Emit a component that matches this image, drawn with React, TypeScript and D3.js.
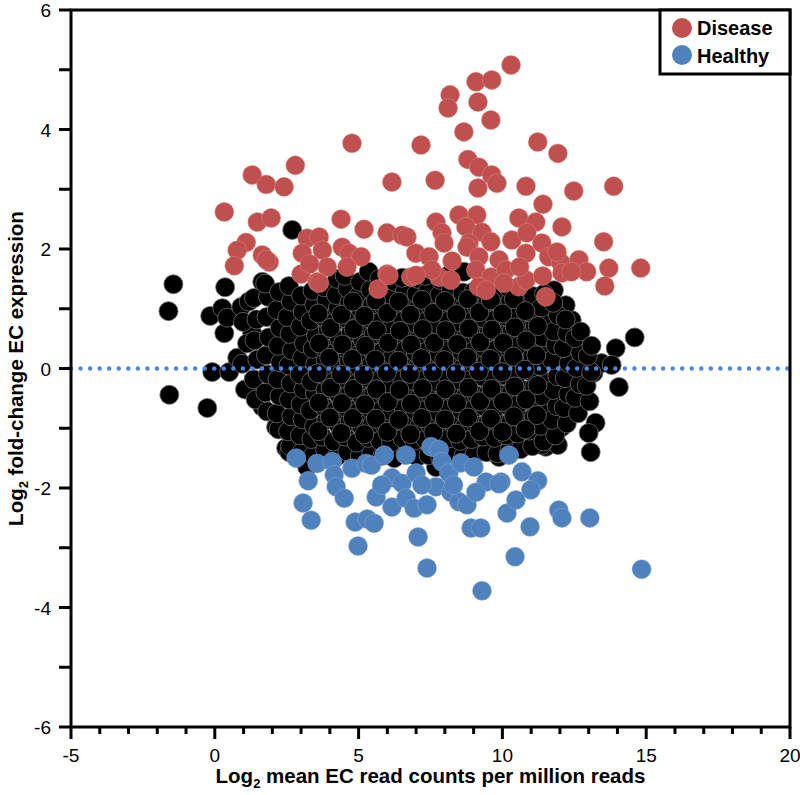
import React from "react";
import * as d3 from "d3";

const xTicks = [-5, 0, 5, 10, 15, 20];
const yTicks = [-6, -4, -2, 0, 2, 4, 6];
const legendItems = ["Disease", "Healthy"];

const redPts: [number, number][] = [
  [0.33,2.62],[1.30,3.24],[1.79,3.08],[2.41,3.04],[2.80,3.40],[4.77,3.77],[6.16,3.12],
  [1.48,2.45],[1.96,2.52],[4.39,2.50],[5.19,2.33],[5.99,2.27],[6.51,2.23],
  [1.09,2.11],[0.78,1.98],[0.68,1.72],[1.65,1.90],[1.89,1.78],
  [3.21,2.18],[3.63,2.20],[3.04,1.93],[3.74,1.98],[3.91,1.70],[4.43,2.03],[4.67,1.93],[5.09,1.87],[4.60,1.70],
  [3.00,1.58],[3.56,1.45],[5.99,1.58],[5.68,1.33],
  [10.30,5.08],[9.08,4.80],[9.63,4.83],[8.18,4.58],[8.11,4.36],[9.15,4.46],[9.60,4.16],[8.66,3.96],[7.17,3.74],[11.23,3.79],[11.93,3.60],
  [8.80,3.50],[9.18,3.37],[9.63,3.24],[9.81,3.10],[9.15,3.02],[7.66,3.15],[10.82,3.05],[12.48,2.97],[13.87,3.05],[11.41,2.75],[12.07,2.37],[13.52,2.12],
  [6.68,2.20],[7.69,2.45],[8.49,2.57],[9.11,2.57],[10.57,2.52],[11.16,2.45],[7.90,2.27],[8.73,2.37],[9.29,2.28],[7.97,2.10],[8.84,2.10],[9.60,2.12],[10.33,2.15],[10.85,2.27],[11.37,2.10],[8.77,2.03],
  [6.99,1.93],[7.45,1.87],[9.18,1.87],[9.88,1.82],[10.82,1.93],[11.61,1.87],[12.03,1.77],[12.66,1.82],[12.93,1.62],[13.70,1.68],[14.81,1.68],[13.56,1.38],
  [6.82,1.53],[7.80,1.53],[8.21,1.48],[9.08,1.65],[9.60,1.53],[10.12,1.65],[10.57,1.37],[11.51,1.20],[9.18,1.37],[10.05,1.43],[10.82,1.48],
  [7.55,1.65],[9.43,1.31],[12.07,1.60],[11.40,1.55],[6.05,1.56],[7.00,1.56],[8.25,1.80],[10.60,1.70],[11.90,1.95],[12.40,1.62],[3.63,1.43],[1.79,1.82],[3.30,1.75]
];

const bluePts: [number, number][] = [
  [2.83,-1.50],[3.25,-1.88],[3.07,-2.25],[3.35,-2.54],[3.56,-1.59],[4.08,-1.56],[4.15,-1.78],[4.22,-1.98],[4.50,-2.17],[4.77,-1.67],
  [5.26,-1.59],[5.45,-1.62],[4.88,-2.57],[5.30,-2.52],[5.54,-2.59],[4.98,-2.97],[5.61,-2.15],[5.89,-1.45],[6.16,-1.83],[6.16,-2.32],
  [6.65,-1.45],[6.51,-1.92],[6.65,-2.17],[7.00,-1.75],[6.93,-2.34],[7.07,-2.82],[7.38,-3.34],[7.38,-2.28],[7.52,-1.31],[7.80,-1.36],
  [7.90,-1.56],[7.69,-1.98],[8.14,-1.75],[8.21,-2.07],[8.49,-2.23],[8.77,-2.28],[8.56,-1.58],[9.01,-1.65],[8.91,-2.67],[9.25,-2.67],
  [9.29,-3.72],[9.43,-1.90],[9.08,-2.07],[9.95,-1.90],[10.23,-1.45],[10.16,-2.42],[10.44,-3.15],[10.47,-2.20],[10.68,-1.73],[11.23,-1.88],
  [9.88,-1.93],[10.99,-2.03],[10.96,-2.65],[11.96,-2.37],[12.07,-2.50],[13.04,-2.50],[14.84,-3.36],[8.30,-1.95],[7.20,-1.95],[5.80,-1.95]
];

const blackPts: [number, number][] = [
  // outliers
  [-1.44,1.41],[-1.61,0.96],[-1.58,-0.44],[-0.26,-0.66],[-0.16,0.88],[-0.09,-0.06],[0.33,0.59],[0.36,1.36],[0.50,-0.06],[0.78,0.18],
  [0.26,1.01],[0.43,0.85],[0.92,1.03],[1.30,0.59],[1.65,1.45],[1.37,-0.36],[1.65,-0.64],[2.13,-0.98],[2.48,-1.33],[2.69,2.32],
  [14.60,0.52],[13.94,0.34],[14.05,-0.31],[13.24,-0.91],[13.00,-1.08],[13.07,-1.40],[12.07,-0.98],[11.51,-1.31],[13.17,-0.07],[13.45,0.09],
  [12.72,0.61],[12.41,0.81],[12.20,1.06],[11.79,1.31],[13.80,0.06],[11.93,-1.28],[11.37,-1.28],[9.77,-1.42],[2.59,-1.40],[3.21,-1.65],
  [4.91,-1.33],[7.69,-1.65],[9.88,-1.48],
  // cloud
  [1.05,-0.35],[0.95,0.08],[1.12,0.42],[0.98,0.78],[1.18,1.12],
  [1.42,-0.52],[1.35,-0.18],[1.48,0.15],[1.38,0.47],[1.45,0.82],[1.36,1.18],
  [1.82,-0.72],[1.76,-0.40],[1.85,-0.10],[1.78,0.22],[1.88,0.52],[1.80,0.86],[1.85,1.20],[1.75,1.42],
  [2.22,-1.02],[2.15,-0.75],[2.25,-0.46],[2.18,-0.18],[2.28,0.10],[2.20,0.38],[2.26,0.68],[2.16,0.98],[2.24,1.28],
  [2.62,-1.30],[2.55,-1.05],[2.66,-0.80],[2.58,-0.52],[2.64,-0.25],[2.56,0.05],[2.68,0.30],[2.60,0.58],[2.52,0.86],[2.65,1.12],[2.58,1.38],
  [3.02,-1.40],[2.96,-1.12],[3.05,-0.85],[2.98,-0.60],[3.08,-0.35],[2.95,-0.10],[3.04,0.18],[3.10,0.42],[2.97,0.70],[3.06,0.95],[3.00,1.22],
  [3.42,-1.45],[3.36,-1.18],[3.45,-0.97],[3.31,-0.70],[3.48,-0.41],[3.35,-0.22],[3.49,0.07],[3.40,0.33],[3.52,0.55],[3.33,0.80],[3.46,1.07],[3.40,1.30],
  [3.84,-1.36],[3.74,-1.14],[3.88,-0.86],[3.79,-0.64],[3.85,-0.36],[3.72,-0.10],[3.86,0.14],[3.78,0.36],[3.93,0.64],[3.77,0.86],[3.88,1.14],[3.81,1.36],
  [4.25,-1.47],[4.13,-1.22],[4.29,-0.94],[4.16,-0.72],[4.31,-0.44],[4.12,-0.23],[4.27,0.04],[4.18,0.27],[4.33,0.48],[4.15,0.77],[4.28,1.01],[4.22,1.23],[4.25,1.50],
  [4.61,-1.39],[4.53,-1.14],[4.69,-0.88],[4.59,-0.66],[4.71,-0.38],[4.54,-0.17],[4.66,0.12],[4.58,0.33],[4.73,0.61],[4.55,0.84],[4.68,1.11],[4.61,1.34],[4.52,1.55],
  [5.04,-1.47],[4.93,-1.24],[5.08,-0.96],[4.99,-0.73],[5.11,-0.47],[4.94,-0.25],[5.02,0.02],[5.01,0.23],[5.13,0.49],[4.96,0.70],[5.07,0.99],[4.98,1.21],[5.05,1.45],
  [5.44,-1.43],[5.33,-1.16],[5.47,-0.93],[5.36,-0.66],[5.51,-0.43],[5.32,-0.16],[5.45,0.07],[5.39,0.34],[5.52,0.57],[5.35,0.84],[5.48,1.07],[5.41,1.32],[5.35,1.62],
  [5.83,-1.46],[5.74,-1.21],[5.89,-0.94],[5.77,-0.71],[5.91,-0.45],[5.73,-0.19],[5.86,0.05],[5.79,0.27],[5.93,0.53],[5.76,0.79],[5.88,1.03],[5.81,1.27],[5.72,1.50],
  [6.24,-1.50],[6.13,-1.24],[6.28,-1.01],[6.17,-0.73],[6.31,-0.49],[6.12,-0.27],[6.25,-0.01],[6.19,0.21],[6.32,0.47],[6.15,0.69],[6.27,0.97],[6.21,1.19],[6.25,1.45],
  [6.63,-1.44],[6.53,-1.17],[6.69,-0.94],[6.57,-0.67],[6.71,-0.42],[6.52,-0.19],[6.65,0.07],[6.59,0.30],[6.73,0.57],[6.55,0.80],[6.68,1.07],[6.61,1.29],[6.52,1.52],
  [7.04,-1.48],[6.93,-1.21],[7.09,-0.98],[6.97,-0.71],[7.11,-0.48],[6.92,-0.21],[7.05,0.03],[6.99,0.26],[7.13,0.53],[6.95,0.75],[7.08,1.02],[7.01,1.25],[7.05,1.50],
  [7.43,-1.45],[7.33,-1.19],[7.49,-0.95],[7.37,-0.68],[7.51,-0.45],[7.32,-0.18],[7.45,0.06],[7.39,0.29],[7.53,0.56],[7.35,0.79],[7.48,1.05],[7.41,1.29],[7.32,1.55],
  [7.84,-1.50],[7.73,-1.23],[7.89,-1.00],[7.77,-0.73],[7.91,-0.50],[7.72,-0.23],[7.85,0.01],[7.79,0.24],[7.93,0.51],[7.75,0.73],[7.88,1.00],[7.81,1.23],[7.85,1.48],
  [8.23,-1.43],[8.13,-1.17],[8.29,-0.93],[8.17,-0.66],[8.31,-0.43],[8.12,-0.16],[8.25,0.08],[8.19,0.31],[8.33,0.58],[8.15,0.81],[8.28,1.07],[8.21,1.31],[8.12,1.56],
  [8.64,-1.47],[8.53,-1.21],[8.69,-0.97],[8.57,-0.70],[8.71,-0.47],[8.52,-0.20],[8.65,0.04],[8.59,0.27],[8.73,0.54],[8.55,0.77],[8.68,1.03],[8.61,1.27],[8.66,1.62],
  [9.03,-1.44],[8.93,-1.18],[9.09,-0.95],[8.97,-0.68],[9.11,-0.45],[8.92,-0.18],[9.05,0.06],[8.99,0.29],[9.13,0.56],[8.95,0.79],[9.08,1.06],[9.01,1.29],
  [9.44,-1.40],[9.33,-1.14],[9.49,-0.91],[9.37,-0.64],[9.51,-0.41],[9.32,-0.14],[9.45,0.11],[9.39,0.34],[9.53,0.61],[9.35,0.84],[9.48,1.11],[9.41,1.34],
  [9.83,-1.42],[9.73,-1.16],[9.89,-0.93],[9.77,-0.66],[9.91,-0.43],[9.72,-0.16],[9.85,0.09],[9.79,0.32],[9.93,0.59],[9.75,0.82],[9.88,1.09],[9.81,1.32],
  [10.24,-1.38],[10.13,-1.12],[10.29,-0.89],[10.17,-0.62],[10.31,-0.39],[10.12,-0.12],[10.25,0.13],[10.19,0.36],[10.33,0.63],[10.15,0.86],[10.28,1.13],[10.21,1.35],
  [10.63,-1.35],[10.53,-1.09],[10.69,-0.86],[10.57,-0.59],[10.71,-0.36],[10.52,-0.09],[10.65,0.16],[10.59,0.39],[10.73,0.66],[10.55,0.89],[10.68,1.16],[10.61,1.37],
  [11.04,-1.30],[10.93,-1.04],[11.09,-0.81],[10.97,-0.54],[11.11,-0.31],[10.92,-0.04],[11.05,0.21],[10.99,0.44],[11.13,0.71],[10.95,0.94],[11.08,1.21],
  [11.43,-1.22],[11.33,-0.96],[11.49,-0.73],[11.37,-0.46],[11.51,-0.23],[11.32,0.04],[11.45,0.29],[11.39,0.52],[11.53,0.79],[11.35,1.02],[11.45,1.25],
  [11.84,-1.12],[11.73,-0.86],[11.89,-0.63],[11.77,-0.36],[11.91,-0.13],[11.72,0.14],[11.85,0.39],[11.79,0.62],[11.93,0.89],[11.77,1.10],
  [12.24,-0.92],[12.13,-0.66],[12.29,-0.43],[12.17,-0.16],[12.31,0.09],[12.12,0.34],[12.25,0.59],[12.20,0.82],
  [12.63,-0.75],[12.53,-0.49],[12.69,-0.26],[12.57,0.01],[12.71,0.26],[12.52,0.51],[12.72,0.62],
  [13.03,-0.55],[12.93,-0.29],[13.09,-0.06],[12.97,0.21],[13.10,0.38],
  // dense core
  [3.60,-1.05],[3.62,-0.57],[3.58,-0.08],[3.63,0.42],[3.60,0.92],
  [4.00,-0.82],[4.03,-0.32],[3.98,0.18],[4.02,0.68],
  [4.40,-1.08],[4.42,-0.58],[4.38,-0.10],[4.43,0.40],[4.40,0.90],
  [4.80,-0.83],[4.82,-0.34],[4.78,0.16],[4.83,0.66],[4.80,1.12],
  [5.20,-1.10],[5.22,-0.60],[5.18,-0.11],[5.23,0.38],[5.20,0.88],
  [5.60,-0.84],[5.62,-0.35],[5.58,0.15],[5.63,0.64],[5.60,1.14],
  [6.00,-1.06],[6.02,-0.56],[5.98,-0.07],[6.03,0.43],[6.00,0.93],
  [6.40,-0.86],[6.42,-0.36],[6.38,0.13],[6.43,0.63],[6.40,1.12],
  [6.80,-1.10],[6.82,-0.59],[6.78,-0.09],[6.83,0.40],[6.80,0.90],
  [7.20,-0.83],[7.22,-0.33],[7.18,0.17],[7.23,0.66],[7.20,1.15],
  [7.60,-1.07],[7.62,-0.57],[7.58,-0.06],[7.63,0.43],[7.60,0.93],
  [8.00,-0.85],[8.02,-0.35],[7.98,0.14],[8.03,0.64],[8.00,1.13],
  [8.40,-1.09],[8.42,-0.58],[8.38,-0.08],[8.43,0.41],[8.40,0.91],
  [8.80,-0.82],[8.82,-0.32],[8.78,0.18],[8.83,0.67],[8.80,1.16],
  [9.20,-1.05],[9.22,-0.55],[9.18,-0.05],[9.23,0.44],[9.20,0.94],
  [9.60,-0.84],[9.62,-0.34],[9.58,0.16],[9.63,0.65],[9.60,1.14],
  [10.00,-1.06],[10.02,-0.56],[9.98,-0.06],[10.03,0.43],[10.00,0.92],
  [10.40,-0.80],[10.42,-0.30],[10.38,0.20],[10.43,0.69],[10.40,1.16],
  [10.80,-1.02],[10.82,-0.52],[10.78,-0.02],[10.83,0.47],[10.80,0.96],
  [11.20,-0.78],[11.22,-0.28],[11.18,0.22],[11.23,0.71]
];

const FONT = "'Liberation Sans', Arial, Helvetica, sans-serif";

export default function App() {
  const x = d3.scaleLinear().domain([-5, 20]).range([71, 790]);
  const y = d3.scaleLinear().domain([-6, 6]).range([727, 10]);
  const minorX = d3.range(-5, 21, 1);
  const minorY = d3.range(-6, 7, 1);
  const r = 9.5;
  const red = "#c0504d";
  const blue = "#4f81bd";
  const [x0, x1] = x.range();
  const [yb, yt] = y.range();

  return (
    <svg width={800} height={795} style={{ position: "absolute", left: 0, top: 0, background: "#fff" }} fontFamily={FONT}>
      <rect x={0} y={0} width={800} height={795} fill="#fff" />
      <g>
        {blackPts.map((d, i) => (
          <circle key={"k" + i} cx={x(d[0])} cy={y(d[1])} r={r} fill="#000" stroke="#6e6e6e" strokeWidth={0.8} />
        ))}
      </g>
      <line x1={x0} x2={x1} y1={y(0)} y2={y(0)} stroke="#4a86e8" strokeWidth={4.5} strokeDasharray="0 9.55" strokeLinecap="round" />
      <g>
        {redPts.map((d, i) => (
          <circle key={"r" + i} cx={x(d[0])} cy={y(d[1])} r={r} fill={red} stroke="#d88a88" strokeWidth={0.5} />
        ))}
        {bluePts.map((d, i) => (
          <circle key={"b" + i} cx={x(d[0])} cy={y(d[1])} r={r} fill={blue} stroke="#8aa8d4" strokeWidth={0.5} />
        ))}
      </g>
      <rect x={x0} y={yt} width={x1 - x0} height={yb - yt} fill="none" stroke="#000" strokeWidth={3} />
      {minorX.map((v) => (
        <line key={"mx" + v} x1={x(v)} x2={x(v)} y1={yb} y2={yb + (xTicks.includes(v) ? 12 : 7)} stroke="#000" strokeWidth={3} />
      ))}
      {xTicks.map((v) => (
        <text key={"tx" + v} x={x(v)} y={762} textAnchor="middle" fontSize={19} fill="#000">
          {v < 0 ? "-" + Math.abs(v) : v}
        </text>
      ))}
      {minorY.map((v) => (
        <line key={"my" + v} x1={x0 - 12} x2={x0} y1={y(v)} y2={y(v)} stroke="#000" strokeWidth={3} />
      ))}
      {yTicks.map((v) => (
        <text key={"ty" + v} x={51} y={y(v) + 7} textAnchor="end" fontSize={19} fill="#000">
          {v < 0 ? "-" + Math.abs(v) : v}
        </text>
      ))}
      <text x={(x0 + x1) / 2} y={783} textAnchor="middle" fontSize={20.5} fontWeight="bold" fill="#000">
        Log<tspan dy={5} fontSize={13}>2</tspan><tspan dy={-5}> mean EC read counts per million reads</tspan>
      </text>
      <text transform={`translate(23, ${(yt + yb) / 2}) rotate(-90)`} textAnchor="middle" fontSize={20.5} fontWeight="bold" fill="#000">
        Log<tspan dy={5} fontSize={13}>2</tspan><tspan dy={-5}> fold-change EC expression</tspan>
      </text>
      <rect x={660} y={yt} width={x1 - 660} height={64} fill="#fff" stroke="#000" strokeWidth={3} />
      {legendItems.map((name, i) => (
        <g key={name}>
          <circle cx={682} cy={28 + i * 27} r={10} fill={i === 0 ? red : blue} />
          <text x={697} y={35 + i * 28} fontSize={20} fontWeight="bold" fill="#000">{name}</text>
        </g>
      ))}
    </svg>
  );
}
